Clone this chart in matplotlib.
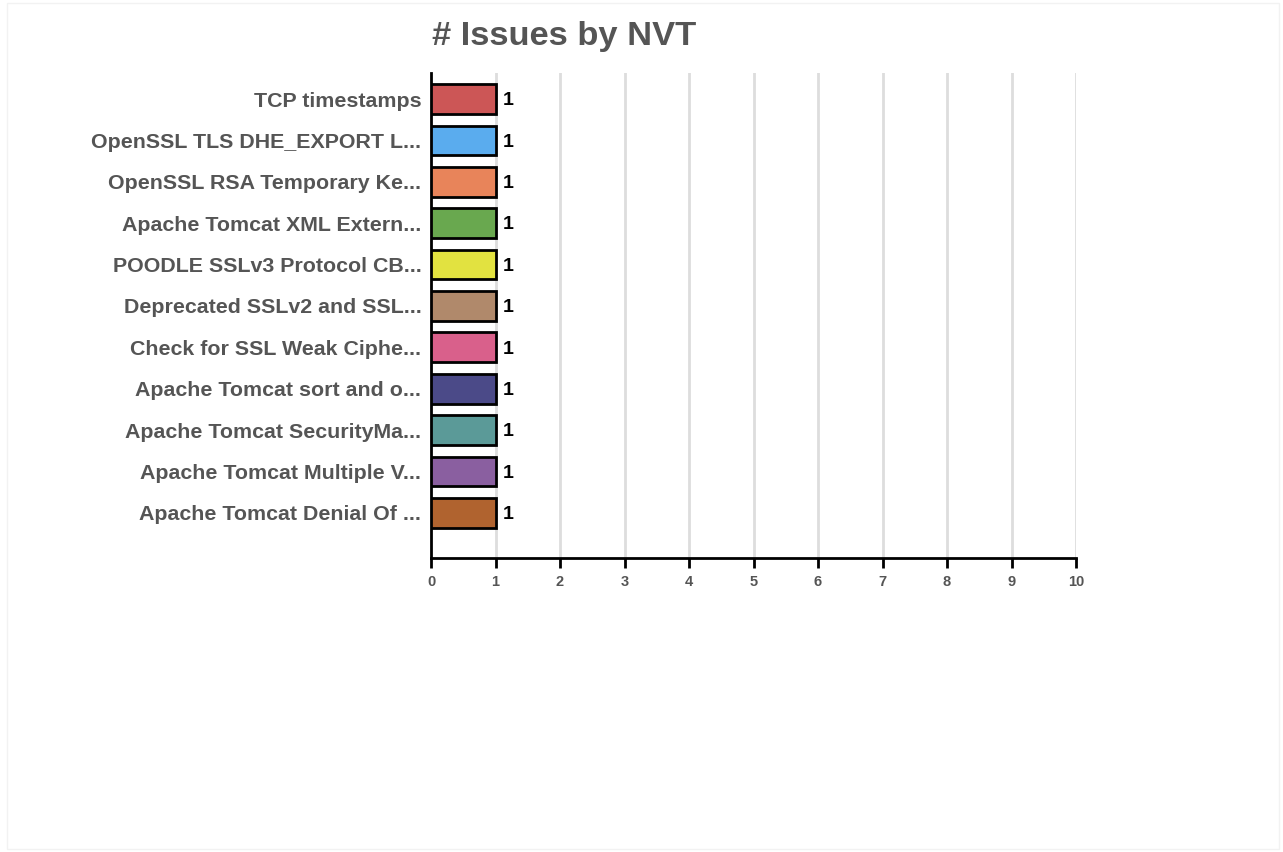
import matplotlib.pyplot as plt
import matplotlib.patches as patches

# data
labels = ['TCP timestamps', 'OpenSSL TLS DHE_EXPORT L...', 'OpenSSL RSA Temporary Ke...',
          'Apache Tomcat XML Extern...', 'POODLE SSLv3 Protocol CB...', 'Deprecated SSLv2 and SSL...',
          'Check for SSL Weak Ciphe...', 'Apache Tomcat sort and o...', 'Apache Tomcat SecurityMa...',
          'Apache Tomcat Multiple V...', 'Apache Tomcat Denial Of ...']
counts = [1, 1, 1, 1, 1, 1, 1, 1, 1, 1, 1]
colors = ['#cc5656', '#5aacee', '#e8845a', '#69a84f', '#e2e240', '#b0896b',
          '#d9608b', '#4b4a88', '#5b9a98', '#8a5fa0', '#b0632f']
xticks = list(range(0, 11))

grey = '#555555'
plt.rcParams['font.family'] = ['Liberation Sans', 'DejaVu Sans']

fig = plt.figure(figsize=(12.83, 8.52), dpi=100)
ax = fig.add_axes([431 / 1283, 1 - 558 / 852, (1076 - 431) / 1283, (558 - 73) / 852])

ypos = list(range(len(labels)))
ax.barh(ypos, counts, height=0.72, color=colors, edgecolor='black', linewidth=2, zorder=3)
for y, v in zip(ypos, counts):
    ax.text(v + 0.11, y + 0.04, str(v), va='center', ha='left', fontsize=14, fontweight='bold', color='black')

ax.set_xlim(0, 10)
ax.set_ylim(11.09, -0.63)
ax.set_yticks(ypos)
ax.set_yticklabels(labels, fontsize=15.4, fontweight='bold', color=grey)
ax.tick_params(axis='y', length=0, pad=7)
ax.set_xticks(xticks)
ax.set_xticklabels([str(t) for t in xticks], fontsize=10.5, fontweight='bold', color=grey)
ax.tick_params(axis='x', length=7, width=2, color='black', pad=5)

for t in xticks[1:]:
    ax.axvline(t, color='#dddddd', linewidth=2, zorder=1)

for s in ['top', 'right']:
    ax.spines[s].set_visible(False)
ax.spines['left'].set_linewidth(2)
ax.spines['bottom'].set_linewidth(2)

fig.text(432 / 1283, 1 - 36 / 852, '# Issues by NVT', fontsize=24.8, fontweight='bold',
         color=grey, ha='left', va='center')

# faint frame around the figure
fig.patches.append(patches.Rectangle((7 / 1283, 3 / 852), 1272 / 1283, 846 / 852, transform=fig.transFigure,
                                     fill=False, edgecolor='#f2f2f2', linewidth=1))

fig.savefig('out.png', dpi=100)
